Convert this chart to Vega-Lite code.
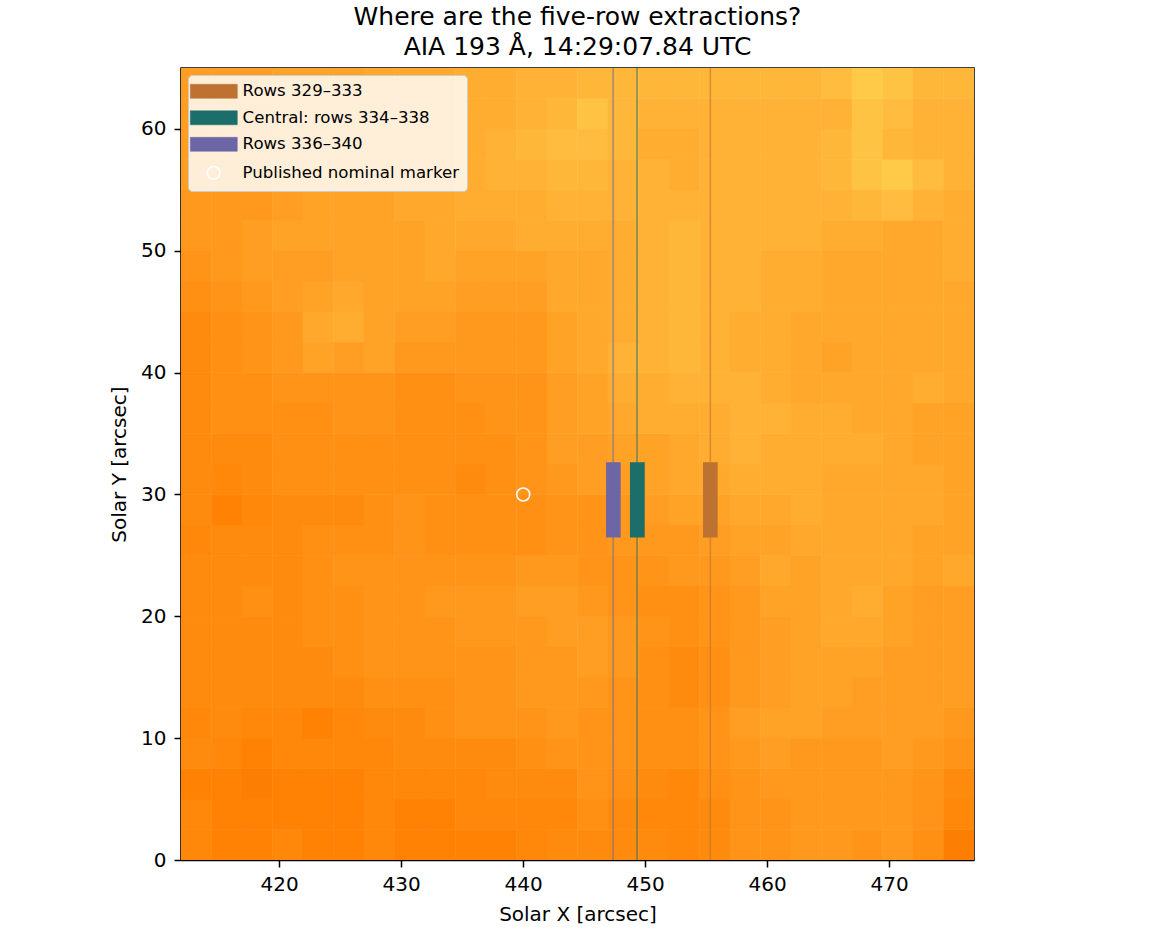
{
"$schema":"https://vega.github.io/schema/vega-lite/v6.json",
"width":793,"height":792,"autosize":"none",
"padding":{"left":181,"top":68,"right":181,"bottom":70},
"background":"white",
"title":{"text":["Where are the five-row extractions?","AIA 193 Å, 14:29:07.84 UTC"],"font":"DejaVu Sans","fontSize":25,"fontWeight":"normal","color":"black","lineHeight":30,"offset":7,"anchor":"middle"},
"config":{
"view":{"stroke":"black","strokeWidth":1.5},
"axis":{"grid":false,"domainColor":"black","domainWidth":1.5,"tickColor":"black","tickWidth":1.5,"tickSize":7,"labelFont":"DejaVu Sans","labelFontSize":20,"labelColor":"black","titleFont":"DejaVu Sans","titleFontSize":20,"titleFontWeight":"normal","titleColor":"black","labelPadding":4},
"axisX":{"titlePadding":10,"labelPadding":7},
"axisY":{"titlePadding":11,"labelPadding":8}
},
"datasets":{
"img":[
{"x":413.2,"y":1.25,"v":2.5},{"x":415.7,"y":1.25,"v":2},{"x":418.2,"y":1.25,"v":2},{"x":420.7,"y":1.25,"v":2.5},{"x":423.2,"y":1.25,"v":2},{"x":425.7,"y":1.25,"v":2},{"x":428.2,"y":1.25,"v":2.5},{"x":430.7,"y":1.25,"v":2},{"x":433.2,"y":1.25,"v":2},{"x":435.7,"y":1.25,"v":2},{"x":438.2,"y":1.25,"v":2},{"x":440.7,"y":1.25,"v":2.5},{"x":443.2,"y":1.25,"v":3},{"x":445.7,"y":1.25,"v":3},{"x":448.2,"y":1.25,"v":3},{"x":450.7,"y":1.25,"v":3},{"x":453.2,"y":1.25,"v":2.5},{"x":455.7,"y":1.25,"v":3},{"x":458.2,"y":1.25,"v":4},{"x":460.7,"y":1.25,"v":4},{"x":463.2,"y":1.25,"v":4.5},{"x":465.7,"y":1.25,"v":4.5},{"x":468.2,"y":1.25,"v":4},{"x":470.7,"y":1.25,"v":4.5},{"x":473.2,"y":1.25,"v":3.5},{"x":475.7,"y":1.25,"v":1.5},
{"x":413.2,"y":3.75,"v":2.5},{"x":415.7,"y":3.75,"v":2},{"x":418.2,"y":3.75,"v":2},{"x":420.7,"y":3.75,"v":2},{"x":423.2,"y":3.75,"v":2},{"x":425.7,"y":3.75,"v":2},{"x":428.2,"y":3.75,"v":2.5},{"x":430.7,"y":3.75,"v":2},{"x":433.2,"y":3.75,"v":2},{"x":435.7,"y":3.75,"v":2.5},{"x":438.2,"y":3.75,"v":2.5},{"x":440.7,"y":3.75,"v":2.5},{"x":443.2,"y":3.75,"v":2.5},{"x":445.7,"y":3.75,"v":3.5},{"x":448.2,"y":3.75,"v":3},{"x":450.7,"y":3.75,"v":2.5},{"x":453.2,"y":3.75,"v":2.5},{"x":455.7,"y":3.75,"v":3},{"x":458.2,"y":3.75,"v":4},{"x":460.7,"y":3.75,"v":4},{"x":463.2,"y":3.75,"v":4.5},{"x":465.7,"y":3.75,"v":4.5},{"x":468.2,"y":3.75,"v":4.5},{"x":470.7,"y":3.75,"v":4.5},{"x":473.2,"y":3.75,"v":4},{"x":475.7,"y":3.75,"v":2.5},
{"x":413.2,"y":6.25,"v":2},{"x":415.7,"y":6.25,"v":2},{"x":418.2,"y":6.25,"v":1.5},{"x":420.7,"y":6.25,"v":2},{"x":423.2,"y":6.25,"v":2},{"x":425.7,"y":6.25,"v":2},{"x":428.2,"y":6.25,"v":2.5},{"x":430.7,"y":6.25,"v":2.5},{"x":433.2,"y":6.25,"v":2.5},{"x":435.7,"y":6.25,"v":2.5},{"x":438.2,"y":6.25,"v":3},{"x":440.7,"y":6.25,"v":3},{"x":443.2,"y":6.25,"v":3},{"x":445.7,"y":6.25,"v":4},{"x":448.2,"y":6.25,"v":3.5},{"x":450.7,"y":6.25,"v":3},{"x":453.2,"y":6.25,"v":2.5},{"x":455.7,"y":6.25,"v":3.5},{"x":458.2,"y":6.25,"v":4},{"x":460.7,"y":6.25,"v":4.5},{"x":463.2,"y":6.25,"v":4.5},{"x":465.7,"y":6.25,"v":4.5},{"x":468.2,"y":6.25,"v":4.5},{"x":470.7,"y":6.25,"v":4.5},{"x":473.2,"y":6.25,"v":4},{"x":475.7,"y":6.25,"v":3},
{"x":413.2,"y":8.75,"v":3},{"x":415.7,"y":8.75,"v":2.5},{"x":418.2,"y":8.75,"v":2},{"x":420.7,"y":8.75,"v":2.5},{"x":423.2,"y":8.75,"v":2.5},{"x":425.7,"y":8.75,"v":2.5},{"x":428.2,"y":8.75,"v":2.5},{"x":430.7,"y":8.75,"v":3},{"x":433.2,"y":8.75,"v":3},{"x":435.7,"y":8.75,"v":3},{"x":438.2,"y":8.75,"v":3},{"x":440.7,"y":8.75,"v":3.5},{"x":443.2,"y":8.75,"v":4},{"x":445.7,"y":8.75,"v":4},{"x":448.2,"y":8.75,"v":4},{"x":450.7,"y":8.75,"v":3.5},{"x":453.2,"y":8.75,"v":3.5},{"x":455.7,"y":8.75,"v":4},{"x":458.2,"y":8.75,"v":4.5},{"x":460.7,"y":8.75,"v":5},{"x":463.2,"y":8.75,"v":4.5},{"x":465.7,"y":8.75,"v":4.5},{"x":468.2,"y":8.75,"v":4.5},{"x":470.7,"y":8.75,"v":5},{"x":473.2,"y":8.75,"v":4.5},{"x":475.7,"y":8.75,"v":4},
{"x":413.2,"y":11.25,"v":2.5},{"x":415.7,"y":11.25,"v":3},{"x":418.2,"y":11.25,"v":2.5},{"x":420.7,"y":11.25,"v":2.5},{"x":423.2,"y":11.25,"v":2},{"x":425.7,"y":11.25,"v":2.5},{"x":428.2,"y":11.25,"v":3},{"x":430.7,"y":11.25,"v":3},{"x":433.2,"y":11.25,"v":3.5},{"x":435.7,"y":11.25,"v":4},{"x":438.2,"y":11.25,"v":4},{"x":440.7,"y":11.25,"v":4},{"x":443.2,"y":11.25,"v":4.5},{"x":445.7,"y":11.25,"v":4},{"x":448.2,"y":11.25,"v":4},{"x":450.7,"y":11.25,"v":3.5},{"x":453.2,"y":11.25,"v":3.5},{"x":455.7,"y":11.25,"v":4},{"x":458.2,"y":11.25,"v":5},{"x":460.7,"y":11.25,"v":5.5},{"x":463.2,"y":11.25,"v":5.5},{"x":465.7,"y":11.25,"v":5},{"x":468.2,"y":11.25,"v":5},{"x":470.7,"y":11.25,"v":5},{"x":473.2,"y":11.25,"v":5},{"x":475.7,"y":11.25,"v":4.5},
{"x":413.2,"y":13.75,"v":3},{"x":415.7,"y":13.75,"v":3},{"x":418.2,"y":13.75,"v":3},{"x":420.7,"y":13.75,"v":3},{"x":423.2,"y":13.75,"v":3},{"x":425.7,"y":13.75,"v":3},{"x":428.2,"y":13.75,"v":3.5},{"x":430.7,"y":13.75,"v":3.5},{"x":433.2,"y":13.75,"v":3.5},{"x":435.7,"y":13.75,"v":4},{"x":438.2,"y":13.75,"v":4},{"x":440.7,"y":13.75,"v":4.5},{"x":443.2,"y":13.75,"v":4.5},{"x":445.7,"y":13.75,"v":4.5},{"x":448.2,"y":13.75,"v":4},{"x":450.7,"y":13.75,"v":3.5},{"x":453.2,"y":13.75,"v":3},{"x":455.7,"y":13.75,"v":3.5},{"x":458.2,"y":13.75,"v":4.5},{"x":460.7,"y":13.75,"v":5},{"x":463.2,"y":13.75,"v":5.5},{"x":465.7,"y":13.75,"v":5.5},{"x":468.2,"y":13.75,"v":5},{"x":470.7,"y":13.75,"v":5},{"x":473.2,"y":13.75,"v":5},{"x":475.7,"y":13.75,"v":5},
{"x":413.2,"y":16.25,"v":3},{"x":415.7,"y":16.25,"v":3},{"x":418.2,"y":16.25,"v":3},{"x":420.7,"y":16.25,"v":3},{"x":423.2,"y":16.25,"v":3},{"x":425.7,"y":16.25,"v":3.5},{"x":428.2,"y":16.25,"v":4},{"x":430.7,"y":16.25,"v":4},{"x":433.2,"y":16.25,"v":4},{"x":435.7,"y":16.25,"v":4},{"x":438.2,"y":16.25,"v":4},{"x":440.7,"y":16.25,"v":4.5},{"x":443.2,"y":16.25,"v":4.5},{"x":445.7,"y":16.25,"v":5},{"x":448.2,"y":16.25,"v":4.5},{"x":450.7,"y":16.25,"v":3.5},{"x":453.2,"y":16.25,"v":3},{"x":455.7,"y":16.25,"v":3.5},{"x":458.2,"y":16.25,"v":4.5},{"x":460.7,"y":16.25,"v":5},{"x":463.2,"y":16.25,"v":5.5},{"x":465.7,"y":16.25,"v":5.5},{"x":468.2,"y":16.25,"v":5.5},{"x":470.7,"y":16.25,"v":5},{"x":473.2,"y":16.25,"v":5},{"x":475.7,"y":16.25,"v":5},
{"x":413.2,"y":18.75,"v":3},{"x":415.7,"y":18.75,"v":3},{"x":418.2,"y":18.75,"v":3},{"x":420.7,"y":18.75,"v":3},{"x":423.2,"y":18.75,"v":3.5},{"x":425.7,"y":18.75,"v":3.5},{"x":428.2,"y":18.75,"v":4},{"x":430.7,"y":18.75,"v":4},{"x":433.2,"y":18.75,"v":4},{"x":435.7,"y":18.75,"v":4.5},{"x":438.2,"y":18.75,"v":4.5},{"x":440.7,"y":18.75,"v":4.5},{"x":443.2,"y":18.75,"v":5},{"x":445.7,"y":18.75,"v":5},{"x":448.2,"y":18.75,"v":4.5},{"x":450.7,"y":18.75,"v":4},{"x":453.2,"y":18.75,"v":3.5},{"x":455.7,"y":18.75,"v":4},{"x":458.2,"y":18.75,"v":4.5},{"x":460.7,"y":18.75,"v":5},{"x":463.2,"y":18.75,"v":5.5},{"x":465.7,"y":18.75,"v":6},{"x":468.2,"y":18.75,"v":6},{"x":470.7,"y":18.75,"v":5.5},{"x":473.2,"y":18.75,"v":5},{"x":475.7,"y":18.75,"v":5},
{"x":413.2,"y":21.25,"v":3},{"x":415.7,"y":21.25,"v":3},{"x":418.2,"y":21.25,"v":3.5},{"x":420.7,"y":21.25,"v":3},{"x":423.2,"y":21.25,"v":3.5},{"x":425.7,"y":21.25,"v":3.5},{"x":428.2,"y":21.25,"v":4},{"x":430.7,"y":21.25,"v":4},{"x":433.2,"y":21.25,"v":4.5},{"x":435.7,"y":21.25,"v":4.5},{"x":438.2,"y":21.25,"v":4.5},{"x":440.7,"y":21.25,"v":5},{"x":443.2,"y":21.25,"v":5},{"x":445.7,"y":21.25,"v":4.5},{"x":448.2,"y":21.25,"v":4},{"x":450.7,"y":21.25,"v":3.5},{"x":453.2,"y":21.25,"v":3.5},{"x":455.7,"y":21.25,"v":4},{"x":458.2,"y":21.25,"v":4.5},{"x":460.7,"y":21.25,"v":5.5},{"x":463.2,"y":21.25,"v":5.5},{"x":465.7,"y":21.25,"v":6},{"x":468.2,"y":21.25,"v":6.5},{"x":470.7,"y":21.25,"v":5.5},{"x":473.2,"y":21.25,"v":5},{"x":475.7,"y":21.25,"v":5},
{"x":413.2,"y":23.75,"v":3},{"x":415.7,"y":23.75,"v":3},{"x":418.2,"y":23.75,"v":3},{"x":420.7,"y":23.75,"v":3},{"x":423.2,"y":23.75,"v":3.5},{"x":425.7,"y":23.75,"v":4},{"x":428.2,"y":23.75,"v":4},{"x":430.7,"y":23.75,"v":4},{"x":433.2,"y":23.75,"v":4},{"x":435.7,"y":23.75,"v":4},{"x":438.2,"y":23.75,"v":4},{"x":440.7,"y":23.75,"v":4.5},{"x":443.2,"y":23.75,"v":4.5},{"x":445.7,"y":23.75,"v":4},{"x":448.2,"y":23.75,"v":4},{"x":450.7,"y":23.75,"v":4},{"x":453.2,"y":23.75,"v":4.5},{"x":455.7,"y":23.75,"v":4.5},{"x":458.2,"y":23.75,"v":5},{"x":460.7,"y":23.75,"v":6},{"x":463.2,"y":23.75,"v":5.5},{"x":465.7,"y":23.75,"v":6},{"x":468.2,"y":23.75,"v":6},{"x":470.7,"y":23.75,"v":6},{"x":473.2,"y":23.75,"v":5.5},{"x":475.7,"y":23.75,"v":6},
{"x":413.2,"y":26.25,"v":2.5},{"x":415.7,"y":26.25,"v":3},{"x":418.2,"y":26.25,"v":3},{"x":420.7,"y":26.25,"v":3},{"x":423.2,"y":26.25,"v":3.5},{"x":425.7,"y":26.25,"v":3.5},{"x":428.2,"y":26.25,"v":3.5},{"x":430.7,"y":26.25,"v":4},{"x":433.2,"y":26.25,"v":3.5},{"x":435.7,"y":26.25,"v":3.5},{"x":438.2,"y":26.25,"v":3.5},{"x":440.7,"y":26.25,"v":3.5},{"x":443.2,"y":26.25,"v":4},{"x":445.7,"y":26.25,"v":4},{"x":448.2,"y":26.25,"v":4.5},{"x":450.7,"y":26.25,"v":4.5},{"x":453.2,"y":26.25,"v":4.5},{"x":455.7,"y":26.25,"v":5},{"x":458.2,"y":26.25,"v":5.5},{"x":460.7,"y":26.25,"v":5.5},{"x":463.2,"y":26.25,"v":6},{"x":465.7,"y":26.25,"v":6},{"x":468.2,"y":26.25,"v":6},{"x":470.7,"y":26.25,"v":6},{"x":473.2,"y":26.25,"v":5.5},{"x":475.7,"y":26.25,"v":5.5},
{"x":413.2,"y":28.75,"v":3},{"x":415.7,"y":28.75,"v":2},{"x":418.2,"y":28.75,"v":2.5},{"x":420.7,"y":28.75,"v":3},{"x":423.2,"y":28.75,"v":3},{"x":425.7,"y":28.75,"v":3},{"x":428.2,"y":28.75,"v":3.5},{"x":430.7,"y":28.75,"v":4},{"x":433.2,"y":28.75,"v":3.5},{"x":435.7,"y":28.75,"v":3.5},{"x":438.2,"y":28.75,"v":3.5},{"x":440.7,"y":28.75,"v":3.5},{"x":443.2,"y":28.75,"v":4},{"x":445.7,"y":28.75,"v":4},{"x":448.2,"y":28.75,"v":4.5},{"x":450.7,"y":28.75,"v":5},{"x":453.2,"y":28.75,"v":5.5},{"x":455.7,"y":28.75,"v":5.5},{"x":458.2,"y":28.75,"v":6},{"x":460.7,"y":28.75,"v":6},{"x":463.2,"y":28.75,"v":6.5},{"x":465.7,"y":28.75,"v":6},{"x":468.2,"y":28.75,"v":6},{"x":470.7,"y":28.75,"v":6},{"x":473.2,"y":28.75,"v":6},{"x":475.7,"y":28.75,"v":5.5},
{"x":413.2,"y":31.25,"v":3},{"x":415.7,"y":31.25,"v":2.5},{"x":418.2,"y":31.25,"v":3},{"x":420.7,"y":31.25,"v":3.5},{"x":423.2,"y":31.25,"v":3.5},{"x":425.7,"y":31.25,"v":3.5},{"x":428.2,"y":31.25,"v":3.5},{"x":430.7,"y":31.25,"v":3.5},{"x":433.2,"y":31.25,"v":3.5},{"x":435.7,"y":31.25,"v":3},{"x":438.2,"y":31.25,"v":3.5},{"x":440.7,"y":31.25,"v":4},{"x":443.2,"y":31.25,"v":4.5},{"x":445.7,"y":31.25,"v":5},{"x":448.2,"y":31.25,"v":5},{"x":450.7,"y":31.25,"v":5.5},{"x":453.2,"y":31.25,"v":6},{"x":455.7,"y":31.25,"v":6},{"x":458.2,"y":31.25,"v":6.5},{"x":460.7,"y":31.25,"v":6.5},{"x":463.2,"y":31.25,"v":6.5},{"x":465.7,"y":31.25,"v":6},{"x":468.2,"y":31.25,"v":6},{"x":470.7,"y":31.25,"v":6},{"x":473.2,"y":31.25,"v":6},{"x":475.7,"y":31.25,"v":5.5},
{"x":413.2,"y":33.75,"v":3},{"x":415.7,"y":33.75,"v":3},{"x":418.2,"y":33.75,"v":3},{"x":420.7,"y":33.75,"v":3.5},{"x":423.2,"y":33.75,"v":3.5},{"x":425.7,"y":33.75,"v":3.5},{"x":428.2,"y":33.75,"v":3.5},{"x":430.7,"y":33.75,"v":3.5},{"x":433.2,"y":33.75,"v":3.5},{"x":435.7,"y":33.75,"v":3.5},{"x":438.2,"y":33.75,"v":3.5},{"x":440.7,"y":33.75,"v":4},{"x":443.2,"y":33.75,"v":5},{"x":445.7,"y":33.75,"v":5},{"x":448.2,"y":33.75,"v":5.5},{"x":450.7,"y":33.75,"v":5.5},{"x":453.2,"y":33.75,"v":6},{"x":455.7,"y":33.75,"v":6.5},{"x":458.2,"y":33.75,"v":7},{"x":460.7,"y":33.75,"v":6.5},{"x":463.2,"y":33.75,"v":6.5},{"x":465.7,"y":33.75,"v":6.5},{"x":468.2,"y":33.75,"v":6.5},{"x":470.7,"y":33.75,"v":6},{"x":473.2,"y":33.75,"v":5.5},{"x":475.7,"y":33.75,"v":5.5},
{"x":413.2,"y":36.25,"v":3},{"x":415.7,"y":36.25,"v":3.5},{"x":418.2,"y":36.25,"v":3.5},{"x":420.7,"y":36.25,"v":3.5},{"x":423.2,"y":36.25,"v":3.5},{"x":425.7,"y":36.25,"v":4},{"x":428.2,"y":36.25,"v":4},{"x":430.7,"y":36.25,"v":3.5},{"x":433.2,"y":36.25,"v":3.5},{"x":435.7,"y":36.25,"v":3.5},{"x":438.2,"y":36.25,"v":4},{"x":440.7,"y":36.25,"v":4},{"x":443.2,"y":36.25,"v":5},{"x":445.7,"y":36.25,"v":5.5},{"x":448.2,"y":36.25,"v":6},{"x":450.7,"y":36.25,"v":6.5},{"x":453.2,"y":36.25,"v":6.5},{"x":455.7,"y":36.25,"v":6.5},{"x":458.2,"y":36.25,"v":7},{"x":460.7,"y":36.25,"v":7},{"x":463.2,"y":36.25,"v":6.5},{"x":465.7,"y":36.25,"v":6.5},{"x":468.2,"y":36.25,"v":6},{"x":470.7,"y":36.25,"v":6},{"x":473.2,"y":36.25,"v":5.5},{"x":475.7,"y":36.25,"v":5.5},
{"x":413.2,"y":38.75,"v":3},{"x":415.7,"y":38.75,"v":3.5},{"x":418.2,"y":38.75,"v":3.5},{"x":420.7,"y":38.75,"v":4},{"x":423.2,"y":38.75,"v":4},{"x":425.7,"y":38.75,"v":4},{"x":428.2,"y":38.75,"v":4},{"x":430.7,"y":38.75,"v":3.5},{"x":433.2,"y":38.75,"v":3.5},{"x":435.7,"y":38.75,"v":4},{"x":438.2,"y":38.75,"v":4},{"x":440.7,"y":38.75,"v":4},{"x":443.2,"y":38.75,"v":5},{"x":445.7,"y":38.75,"v":5.5},{"x":448.2,"y":38.75,"v":6.5},{"x":450.7,"y":38.75,"v":6.5},{"x":453.2,"y":38.75,"v":7},{"x":455.7,"y":38.75,"v":7},{"x":458.2,"y":38.75,"v":7},{"x":460.7,"y":38.75,"v":6.5},{"x":463.2,"y":38.75,"v":6},{"x":465.7,"y":38.75,"v":6},{"x":468.2,"y":38.75,"v":6},{"x":470.7,"y":38.75,"v":6},{"x":473.2,"y":38.75,"v":6.5},{"x":475.7,"y":38.75,"v":6},
{"x":413.2,"y":41.25,"v":3},{"x":415.7,"y":41.25,"v":3.5},{"x":418.2,"y":41.25,"v":4},{"x":420.7,"y":41.25,"v":4.5},{"x":423.2,"y":41.25,"v":5.5},{"x":425.7,"y":41.25,"v":5},{"x":428.2,"y":41.25,"v":5.5},{"x":430.7,"y":41.25,"v":4.5},{"x":433.2,"y":41.25,"v":4.5},{"x":435.7,"y":41.25,"v":4.5},{"x":438.2,"y":41.25,"v":4.5},{"x":440.7,"y":41.25,"v":4.5},{"x":443.2,"y":41.25,"v":5.5},{"x":445.7,"y":41.25,"v":6},{"x":448.2,"y":41.25,"v":7},{"x":450.7,"y":41.25,"v":7},{"x":453.2,"y":41.25,"v":7.5},{"x":455.7,"y":41.25,"v":7},{"x":458.2,"y":41.25,"v":6.5},{"x":460.7,"y":41.25,"v":6.5},{"x":463.2,"y":41.25,"v":6},{"x":465.7,"y":41.25,"v":5.5},{"x":468.2,"y":41.25,"v":6},{"x":470.7,"y":41.25,"v":6},{"x":473.2,"y":41.25,"v":6},{"x":475.7,"y":41.25,"v":6},
{"x":413.2,"y":43.75,"v":3},{"x":415.7,"y":43.75,"v":3.5},{"x":418.2,"y":43.75,"v":4},{"x":420.7,"y":43.75,"v":4.5},{"x":423.2,"y":43.75,"v":6},{"x":425.7,"y":43.75,"v":6.5},{"x":428.2,"y":43.75,"v":5.5},{"x":430.7,"y":43.75,"v":5},{"x":433.2,"y":43.75,"v":5},{"x":435.7,"y":43.75,"v":4.5},{"x":438.2,"y":43.75,"v":4.5},{"x":440.7,"y":43.75,"v":4.5},{"x":443.2,"y":43.75,"v":5.5},{"x":445.7,"y":43.75,"v":6},{"x":448.2,"y":43.75,"v":6.5},{"x":450.7,"y":43.75,"v":7},{"x":453.2,"y":43.75,"v":7.5},{"x":455.7,"y":43.75,"v":7},{"x":458.2,"y":43.75,"v":6.5},{"x":460.7,"y":43.75,"v":6.5},{"x":463.2,"y":43.75,"v":6},{"x":465.7,"y":43.75,"v":6},{"x":468.2,"y":43.75,"v":6},{"x":470.7,"y":43.75,"v":6},{"x":473.2,"y":43.75,"v":6},{"x":475.7,"y":43.75,"v":6},
{"x":413.2,"y":46.25,"v":3.5},{"x":415.7,"y":46.25,"v":4},{"x":418.2,"y":46.25,"v":4.5},{"x":420.7,"y":46.25,"v":5},{"x":423.2,"y":46.25,"v":5.5},{"x":425.7,"y":46.25,"v":6},{"x":428.2,"y":46.25,"v":5.5},{"x":430.7,"y":46.25,"v":5.5},{"x":433.2,"y":46.25,"v":5.5},{"x":435.7,"y":46.25,"v":5},{"x":438.2,"y":46.25,"v":5},{"x":440.7,"y":46.25,"v":5},{"x":443.2,"y":46.25,"v":6},{"x":445.7,"y":46.25,"v":6},{"x":448.2,"y":46.25,"v":6.5},{"x":450.7,"y":46.25,"v":7},{"x":453.2,"y":46.25,"v":7.5},{"x":455.7,"y":46.25,"v":7},{"x":458.2,"y":46.25,"v":7},{"x":460.7,"y":46.25,"v":6.5},{"x":463.2,"y":46.25,"v":6.5},{"x":465.7,"y":46.25,"v":6},{"x":468.2,"y":46.25,"v":6},{"x":470.7,"y":46.25,"v":6},{"x":473.2,"y":46.25,"v":6},{"x":475.7,"y":46.25,"v":6},
{"x":413.2,"y":48.75,"v":4},{"x":415.7,"y":48.75,"v":4.5},{"x":418.2,"y":48.75,"v":5},{"x":420.7,"y":48.75,"v":5},{"x":423.2,"y":48.75,"v":5},{"x":425.7,"y":48.75,"v":5.5},{"x":428.2,"y":48.75,"v":5.5},{"x":430.7,"y":48.75,"v":5.5},{"x":433.2,"y":48.75,"v":6},{"x":435.7,"y":48.75,"v":5.5},{"x":438.2,"y":48.75,"v":5.5},{"x":440.7,"y":48.75,"v":5.5},{"x":443.2,"y":48.75,"v":6},{"x":445.7,"y":48.75,"v":6},{"x":448.2,"y":48.75,"v":6.5},{"x":450.7,"y":48.75,"v":7},{"x":453.2,"y":48.75,"v":7.5},{"x":455.7,"y":48.75,"v":7},{"x":458.2,"y":48.75,"v":7},{"x":460.7,"y":48.75,"v":6.5},{"x":463.2,"y":48.75,"v":6.5},{"x":465.7,"y":48.75,"v":6},{"x":468.2,"y":48.75,"v":6},{"x":470.7,"y":48.75,"v":6},{"x":473.2,"y":48.75,"v":6},{"x":475.7,"y":48.75,"v":6.5},
{"x":413.2,"y":51.25,"v":4.5},{"x":415.7,"y":51.25,"v":4.5},{"x":418.2,"y":51.25,"v":5},{"x":420.7,"y":51.25,"v":5.5},{"x":423.2,"y":51.25,"v":5.5},{"x":425.7,"y":51.25,"v":5.5},{"x":428.2,"y":51.25,"v":5.5},{"x":430.7,"y":51.25,"v":5.5},{"x":433.2,"y":51.25,"v":6},{"x":435.7,"y":51.25,"v":6},{"x":438.2,"y":51.25,"v":6},{"x":440.7,"y":51.25,"v":6.5},{"x":443.2,"y":51.25,"v":6.5},{"x":445.7,"y":51.25,"v":6.5},{"x":448.2,"y":51.25,"v":6.5},{"x":450.7,"y":51.25,"v":7},{"x":453.2,"y":51.25,"v":7.5},{"x":455.7,"y":51.25,"v":7},{"x":458.2,"y":51.25,"v":7},{"x":460.7,"y":51.25,"v":7},{"x":463.2,"y":51.25,"v":7},{"x":465.7,"y":51.25,"v":6.5},{"x":468.2,"y":51.25,"v":6.5},{"x":470.7,"y":51.25,"v":6},{"x":473.2,"y":51.25,"v":6},{"x":475.7,"y":51.25,"v":6.5},
{"x":413.2,"y":53.75,"v":4.5},{"x":415.7,"y":53.75,"v":4.5},{"x":418.2,"y":53.75,"v":4.5},{"x":420.7,"y":53.75,"v":5},{"x":423.2,"y":53.75,"v":5.5},{"x":425.7,"y":53.75,"v":5.5},{"x":428.2,"y":53.75,"v":5.5},{"x":430.7,"y":53.75,"v":6},{"x":433.2,"y":53.75,"v":6},{"x":435.7,"y":53.75,"v":6.5},{"x":438.2,"y":53.75,"v":6.5},{"x":440.7,"y":53.75,"v":6.5},{"x":443.2,"y":53.75,"v":7},{"x":445.7,"y":53.75,"v":7},{"x":448.2,"y":53.75,"v":7},{"x":450.7,"y":53.75,"v":7},{"x":453.2,"y":53.75,"v":7},{"x":455.7,"y":53.75,"v":7},{"x":458.2,"y":53.75,"v":7},{"x":460.7,"y":53.75,"v":7},{"x":463.2,"y":53.75,"v":7},{"x":465.7,"y":53.75,"v":7},{"x":468.2,"y":53.75,"v":7.5},{"x":470.7,"y":53.75,"v":8},{"x":473.2,"y":53.75,"v":7},{"x":475.7,"y":53.75,"v":6.5},
{"x":413.2,"y":56.25,"v":5},{"x":415.7,"y":56.25,"v":5},{"x":418.2,"y":56.25,"v":5},{"x":420.7,"y":56.25,"v":5.5},{"x":423.2,"y":56.25,"v":5.5},{"x":425.7,"y":56.25,"v":5.5},{"x":428.2,"y":56.25,"v":6},{"x":430.7,"y":56.25,"v":6},{"x":433.2,"y":56.25,"v":6},{"x":435.7,"y":56.25,"v":6.5},{"x":438.2,"y":56.25,"v":7},{"x":440.7,"y":56.25,"v":7},{"x":443.2,"y":56.25,"v":7.5},{"x":445.7,"y":56.25,"v":7.5},{"x":448.2,"y":56.25,"v":7},{"x":450.7,"y":56.25,"v":7},{"x":453.2,"y":56.25,"v":6.5},{"x":455.7,"y":56.25,"v":7},{"x":458.2,"y":56.25,"v":7},{"x":460.7,"y":56.25,"v":7},{"x":463.2,"y":56.25,"v":7},{"x":465.7,"y":56.25,"v":7.5},{"x":468.2,"y":56.25,"v":8.5},{"x":470.7,"y":56.25,"v":9},{"x":473.2,"y":56.25,"v":8},{"x":475.7,"y":56.25,"v":7},
{"x":413.2,"y":58.75,"v":5},{"x":415.7,"y":58.75,"v":5},{"x":418.2,"y":58.75,"v":5},{"x":420.7,"y":58.75,"v":5.5},{"x":423.2,"y":58.75,"v":5.5},{"x":425.7,"y":58.75,"v":5.5},{"x":428.2,"y":58.75,"v":6},{"x":430.7,"y":58.75,"v":6},{"x":433.2,"y":58.75,"v":6},{"x":435.7,"y":58.75,"v":6.5},{"x":438.2,"y":58.75,"v":7},{"x":440.7,"y":58.75,"v":7.5},{"x":443.2,"y":58.75,"v":8},{"x":445.7,"y":58.75,"v":8},{"x":448.2,"y":58.75,"v":7.5},{"x":450.7,"y":58.75,"v":6.5},{"x":453.2,"y":58.75,"v":6.5},{"x":455.7,"y":58.75,"v":7},{"x":458.2,"y":58.75,"v":7},{"x":460.7,"y":58.75,"v":7},{"x":463.2,"y":58.75,"v":7},{"x":465.7,"y":58.75,"v":7.5},{"x":468.2,"y":58.75,"v":8.5},{"x":470.7,"y":58.75,"v":7.5},{"x":473.2,"y":58.75,"v":7},{"x":475.7,"y":58.75,"v":7},
{"x":413.2,"y":61.25,"v":5},{"x":415.7,"y":61.25,"v":5},{"x":418.2,"y":61.25,"v":5},{"x":420.7,"y":61.25,"v":5.5},{"x":423.2,"y":61.25,"v":5.5},{"x":425.7,"y":61.25,"v":5.5},{"x":428.2,"y":61.25,"v":6},{"x":430.7,"y":61.25,"v":6},{"x":433.2,"y":61.25,"v":6},{"x":435.7,"y":61.25,"v":6.5},{"x":438.2,"y":61.25,"v":6.5},{"x":440.7,"y":61.25,"v":7},{"x":443.2,"y":61.25,"v":7.5},{"x":445.7,"y":61.25,"v":8.5},{"x":448.2,"y":61.25,"v":7.5},{"x":450.7,"y":61.25,"v":7},{"x":453.2,"y":61.25,"v":7},{"x":455.7,"y":61.25,"v":7},{"x":458.2,"y":61.25,"v":7},{"x":460.7,"y":61.25,"v":7},{"x":463.2,"y":61.25,"v":7},{"x":465.7,"y":61.25,"v":7},{"x":468.2,"y":61.25,"v":8.5},{"x":470.7,"y":61.25,"v":8},{"x":473.2,"y":61.25,"v":7},{"x":475.7,"y":61.25,"v":7},
{"x":413.2,"y":63.75,"v":5},{"x":415.7,"y":63.75,"v":5},{"x":418.2,"y":63.75,"v":5},{"x":420.7,"y":63.75,"v":5.5},{"x":423.2,"y":63.75,"v":5.5},{"x":425.7,"y":63.75,"v":5.5},{"x":428.2,"y":63.75,"v":6},{"x":430.7,"y":63.75,"v":6},{"x":433.2,"y":63.75,"v":6},{"x":435.7,"y":63.75,"v":6.5},{"x":438.2,"y":63.75,"v":6.5},{"x":440.7,"y":63.75,"v":7},{"x":443.2,"y":63.75,"v":7},{"x":445.7,"y":63.75,"v":7.5},{"x":448.2,"y":63.75,"v":7.5},{"x":450.7,"y":63.75,"v":7.5},{"x":453.2,"y":63.75,"v":7.5},{"x":455.7,"y":63.75,"v":7.5},{"x":458.2,"y":63.75,"v":7.5},{"x":460.7,"y":63.75,"v":7.5},{"x":463.2,"y":63.75,"v":7.5},{"x":465.7,"y":63.75,"v":8},{"x":468.2,"y":63.75,"v":9},{"x":470.7,"y":63.75,"v":8.5},{"x":473.2,"y":63.75,"v":7.5},{"x":475.7,"y":63.75,"v":7.5}
],
"lines":[
{"label":"Rows 336–340","x":447.37},
{"label":"Central: rows 334–338","x":449.33},
{"label":"Rows 329–333","x":455.34}
],
"boxes":[
{"label":"Rows 336–340","x0":446.79,"x1":447.99,"y0":26.46,"y1":32.65},
{"label":"Central: rows 334–338","x0":448.75,"x1":449.96,"y0":26.46,"y1":32.65},
{"label":"Rows 329–333","x0":454.74,"x1":455.94,"y0":26.46,"y1":32.65}
],
"marker":[
{"label":"Published nominal marker","x":440,"y":30}
]
},
"layer":[
{
"data":{"name":"img"},
"mark":{"type":"rect","width":31,"height":31,"clip":true,"strokeWidth":0},
"encoding":{
"x":{"field":"x","type":"quantitative","title":"Solar X [arcsec]","scale":{"domain":[411.95,476.95],"nice":false,"zero":false},"axis":{"values":[420,430,440,450,460,470]}},
"y":{"field":"y","type":"quantitative","title":"Solar Y [arcsec]","scale":{"domain":[0,65],"nice":false,"zero":false},"axis":{"values":[0,10,20,30,40,50,60]}},
"fill":{"field":"v","type":"quantitative","legend":null,"scale":{"domain":[0,2,4,6,8,10],"range":["#f47400","#ff8204","#ff9418","#ffa82c","#ffbc3e","#ffd852"],"interpolate":"rgb"}}
}
},
{
"data":{"name":"lines"},
"mark":{"type":"rule","strokeWidth":1.5,"opacity":0.6},
"encoding":{
"x":{"field":"x","type":"quantitative","title":"Solar X [arcsec]"},
"color":{"field":"label","type":"nominal"}
}
},
{
"data":{"name":"boxes"},
"mark":{"type":"rect","strokeWidth":0},
"encoding":{
"x":{"field":"x0","type":"quantitative","title":"Solar X [arcsec]"},
"x2":{"field":"x1"},
"y":{"field":"y0","type":"quantitative","title":"Solar Y [arcsec]"},
"y2":{"field":"y1"},
"color":{"field":"label","type":"nominal",
"scale":{"domain":["Rows 329–333","Central: rows 334–338","Rows 336–340","Published nominal marker"],"range":["#bd7231","#1b6e69","#6c66a6","#ffffff"]},
"legend":{"title":null,"orient":"top-left","offset":7,"padding":8,"labelFont":"DejaVu Sans","labelFontSize":16.6,"labelColor":"black","labelOffset":30,"labelLimit":0,"rowPadding":9.5,"symbolSize":100,"fillColor":"rgba(255,255,255,0.82)","strokeColor":"#cccccc","cornerRadius":4,
"encode":{"symbols":{"update":{
"shape":{"signal":"datum.value === 'Published nominal marker' ? 'M3.12,0A1.26,1.26,0,1,1,0.6,0A1.26,1.26,0,1,1,3.12,0Z' : 'M-2.8,-1.4H6.6V1.4H-2.8Z'"},
"fill":{"signal":"datum.value === 'Published nominal marker' ? 'rgba(0,0,0,0)' : scale('color', datum.value)"},
"fillOpacity":{"signal":"datum.value === 'Published nominal marker' ? 0 : 1"},
"stroke":{"signal":"datum.value === 'Published nominal marker' ? '#ffffff' : scale('color', datum.value)"},
"strokeWidth":{"signal":"datum.value === 'Published nominal marker' ? 1.6 : 0.5"},
"opacity":{"value":1},"strokeOpacity":{"value":1}
}}}
}}
}
},
{
"data":{"name":"marker"},
"mark":{"type":"point","filled":false,"size":170,"strokeWidth":1.6,"opacity":1},
"encoding":{
"x":{"field":"x","type":"quantitative","title":"Solar X [arcsec]"},
"y":{"field":"y","type":"quantitative","title":"Solar Y [arcsec]"},
"color":{"field":"label","type":"nominal"}
}
}
]
}
